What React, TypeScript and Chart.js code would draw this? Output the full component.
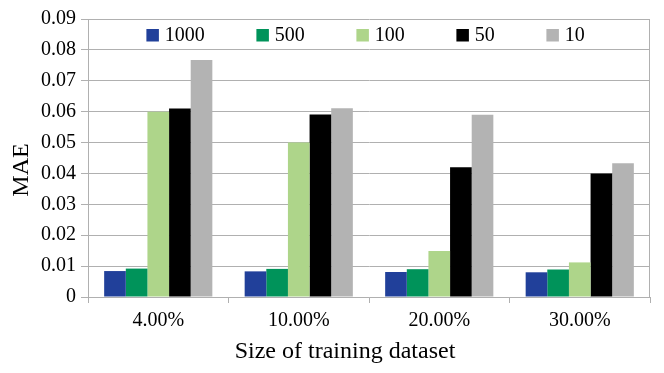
import React, { useEffect, useRef } from "react";
import { Chart, registerables } from "chart.js";

Chart.register(...registerables);

const categories = ["4.00%", "10.00%", "20.00%", "30.00%"];
const seriesLabels = ["1000", "500", "100", "50", "10"];
const s1000 = [0.0084, 0.0083, 0.0081, 0.008];
const s500 = [0.0092, 0.0091, 0.009, 0.0089];
const s100 = [0.06, 0.05, 0.0149, 0.0112];
const s50 = [0.061, 0.0591, 0.042, 0.04];
const s10 = [0.0767, 0.0611, 0.059, 0.0433];
const seriesValues = [s1000, s500, s100, s50, s10];
const seriesColors = ["#21409a", "#00935a", "#aed58a", "#000000", "#b3b3b3"];
const yTicks = [0, 0.01, 0.02, 0.03, 0.04, 0.05, 0.06, 0.07, 0.08, 0.09];
const xTitle = "Size of training dataset";
const yTitle = "MAE";

const FONT = "'Liberation Serif', 'Times New Roman', serif";
const GRID = "#b0b0b0";

const legendPlugin = {
  id: "insideLegend",
  afterDraw(chart: any) {
    const { ctx, chartArea } = chart;
    ctx.save();
    ctx.font = `20px ${FONT}`;
    ctx.textBaseline = "alphabetic";
    ctx.textAlign = "left";
    let x = chartArea.left + 58.4;
    const boxTop = chartArea.top + 10;
    chart.data.datasets.forEach((ds: any) => {
      ctx.fillStyle = ds.backgroundColor;
      ctx.fillRect(x, boxTop, 12.5, 12.5);
      ctx.fillStyle = "#000";
      ctx.fillText(ds.label, x + 18.3, chartArea.top + 21.8);
      const w = ctx.measureText(ds.label).width;
      x += 18.3 + w + 51.7;
    });
    ctx.restore();
  },
};

const borderPlugin = {
  id: "rightBorder",
  afterDraw(chart: any) {
    const { ctx, chartArea } = chart;
    ctx.save();
    ctx.strokeStyle = GRID;
    ctx.lineWidth = 1;
    const x = Math.round(chartArea.right) - 0.5;
    ctx.beginPath();
    ctx.moveTo(x, chartArea.top);
    ctx.lineTo(x, chartArea.bottom);
    ctx.stroke();
    ctx.restore();
  },
};

const titlesPlugin = {
  id: "axisTitles",
  afterDraw(chart: any) {
    const { ctx, chartArea } = chart;
    ctx.save();
    ctx.font = `24px ${FONT}`;
    ctx.fillStyle = "#000";
    ctx.textAlign = "center";
    ctx.textBaseline = "middle";
    ctx.fillText(xTitle, chartArea.left + 257, chartArea.bottom + 55);
    ctx.translate(chartArea.left - 66, chartArea.top + 151);
    ctx.rotate(-Math.PI / 2);
    ctx.fillText(yTitle, 0, 0);
    ctx.restore();
  },
};

export default function App() {
  const ref = useRef<HTMLCanvasElement | null>(null);
  useEffect(() => {
    if (!ref.current) return;
    const chart = new Chart(ref.current, {
      type: "bar",
      data: {
        labels: categories,
        datasets: seriesLabels.map((l, i) => ({
          label: l,
          data: seriesValues[i],
          backgroundColor: seriesColors[i],
          borderWidth: 0,
          categoryPercentage: 0.77,
          barPercentage: 1,
        })),
      },
      options: {
        animation: false,
        responsive: false,
        layout: { padding: { top: 19, right: 14, left: 0, bottom: 0 } },
        plugins: {
          legend: { display: false },
          tooltip: { enabled: false },
        },
        scales: {
          x: {
            afterFit: (s: any) => {
              s.height = 76;
            },
            grid: {
              offset: true,
              drawOnChartArea: false,
              drawTicks: true,
              tickLength: 6,
              color: GRID,
            },
            border: { color: GRID },
            ticks: {
              color: "#000",
              font: { family: FONT, size: 20 },
              padding: 6,
            },
          },
          y: {
            min: 0,
            max: 0.09,
            afterFit: (s: any) => {
              s.width = 88;
            },
            afterBuildTicks: (s: any) => {
              s.ticks = yTicks.map((v) => ({ value: v }));
            },
            grid: {
              color: GRID,
              drawTicks: true,
              tickLength: 7,
            },
            border: { color: GRID },
            ticks: {
              color: "#000",
              font: { family: FONT, size: 20 },
              padding: 5,
              callback: (v: any) => (Number(v) === 0 ? "0" : Number(v).toFixed(2)),
            },
          },
        },
      },
      plugins: [legendPlugin, borderPlugin, titlesPlugin],
    });
    return () => chart.destroy();
  }, []);
  return (
    <div style={{ position: "fixed", left: 0, top: 0, width: 664, height: 373, background: "#fff" }}>
      <canvas ref={ref} width={664} height={373} style={{ display: "block" }} />
    </div>
  );
}
